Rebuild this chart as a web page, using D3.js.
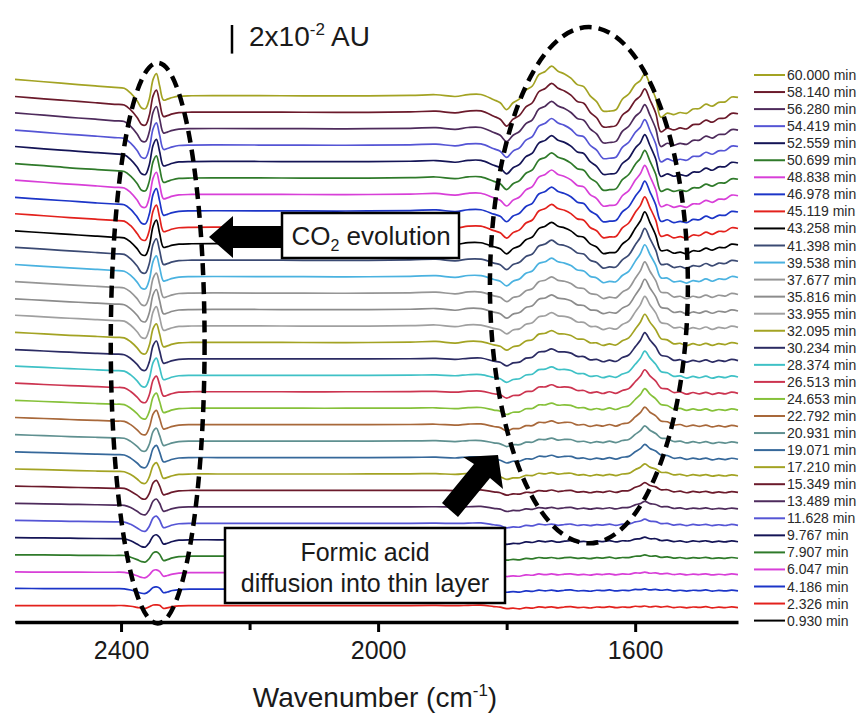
<!DOCTYPE html>
<html>
<head>
<meta charset="utf-8">
<script src="https://cdn.jsdelivr.net/npm/d3@7"></script>
<style>
  html, body { margin: 0; padding: 0; background: #fff; }
  svg { display: block; }
</style>
</head>
<body>
<svg id="chart" width="862" height="721"></svg>
<script>
// Wavenumber grid (cm^-1) shared by all difference spectra
const wavenumbers = [2565, 2520, 2480, 2440, 2410, 2395, 2385, 2375, 2368, 2362, 2356, 2350, 2345, 2340, 2334, 2328, 2320, 2310,
  2290, 2250, 2150, 2050, 1950, 1910, 1880, 1860,
  1840, 1820, 1810, 1800, 1790, 1780, 1770, 1760, 1750, 1740, 1730, 1720, 1710, 1700, 1690, 1680, 1670, 1660, 1650, 1640,
  1630, 1620, 1610, 1600, 1592, 1585, 1577, 1568, 1560, 1550, 1540, 1530, 1520, 1510, 1500, 1490, 1480, 1470, 1460, 1450, 1440];

// Acquisition times (min), first spectrum at the bottom of the stack
const times = ["0.930", "2.326", "4.186", "6.047", "7.907", "9.767", "11.628", "13.489", "15.349", "17.210", "19.071",
  "20.931", "22.792", "24.653", "26.513", "28.374", "30.234", "32.095", "33.955", "35.816", "37.677", "39.538",
  "41.398", "43.258", "45.119", "46.978", "48.838", "50.699", "52.559", "54.419", "56.280", "58.140", "60.000"];

// Absorbance changes in mAU (10^-3 AU), one array per spectrum, same order as the grid
const abs00 = [0,0,0,0,0,0,0,0,0,0, 0,0,0,0,0,0,0,0,0,0, 0,0,0,0,0,0,0,0,0,0, 0,0,0,0,0,0,0,0,0,0, 0,0,0,0,0,0,0,0,0,0, 0,0,0,0,0,0,0,0,0,0, 0,0,0,0,0,0,0];
const abs01 = [0,0,0,0,0,0,-0.5,-1.3,-1.9,-2,-0.9,0.4,0.5,0.2,-2,-1.6,-0.8,-0.2, 0,0,0,0,0,0.1,-0.1,0.1,
  0.3,-0.7,-1.1,-2.2,-1.8,-2.3,-1.4,-1.8,-0.9,-1.4,-0.9,-1.6,-1.0,-0.8,-1.5,-1.2,-1.7,-1.0,-1.3,-0.8,-1.5,-1.0,-1.3,-0.5,-0.8,-0.3,-1.0,-0.5,-1.1,-0.6,-1.4,-1.0,-1.6,-1.0,-1.3,-0.8,-1.6,-1.1,-1.5,-0.9,-1.4];
const abs02 = [0.5,0.4,0.4,0.3,0.3,0.2,-0.6,-1.9,-2.9,-3,-1.3,1.1,1.5,0.7,-2.5,-2,-1,-0.3, 0,0,0,0,0,0.1,-0.1,0.1,
  0.3,-0.7,-1.1,-2.2,-1.7,-2.1,-1.2,-1.6,-0.7,-1.2,-0.7,-1.4,-0.8,-0.6,-1.3,-1.0,-1.5,-0.8,-1.1,-0.6,-1.3,-0.8,-1.0,-0.2,-0.4,0.1,-0.6,-0.2,-0.8,-0.4,-1.2,-0.8,-1.4,-0.8,-1.1,-0.6,-1.4,-0.9,-1.3,-0.7,-1.2];
const abs03 = [0.5,0.4,0.4,0.3,0.3,0.2,-0.7,-2.2,-3.3,-3.5,-1.5,1.5,2,0.9,-2.5,-2,-1,-0.3, 0,0,0,0,0,0.1,-0.1,0.1,
  0.3,-0.8,-1.4,-2.7,-2.2,-2.5,-1.5,-1.8,-0.9,-1.4,-0.9,-1.6,-1.0,-0.8,-1.5,-1.2,-1.7,-1.0,-1.3,-0.8,-1.5,-0.9,-1.1,-0.2,-0.3,0.4,-0.4,-0.1,-0.9,-0.5,-1.3,-0.9,-1.6,-1.0,-1.3,-0.8,-1.6,-1.1,-1.5,-0.9,-1.4];
const abs04 = [1,0.9,0.7,0.6,0.5,0.5,-0.7,-2.4,-3.8,-4,-1.6,2.3,3,1.4,-3,-2.4,-1.2,-0.3, 0,0,0,0,0,0.1,-0.1,0.1,
  0.3,-0.8,-1.4,-2.7,-2.2,-2.5,-1.5,-1.8,-0.9,-1.4,-0.9,-1.6,-1.0,-0.8,-1.5,-1.2,-1.7,-1.0,-1.3,-0.7,-1.5,-0.9,-1.0,0.0,0.1,0.9,0.0,0.2,-0.8,-0.4,-1.3,-0.9,-1.6,-1.0,-1.3,-0.8,-1.6,-1.1,-1.5,-0.9,-1.4];
const abs05 = [1.5,1.3,1.1,0.9,0.8,0.7,-0.7,-3,-4.8,-5,-2,2.6,3.5,1.6,-3,-2.4,-1.2,-0.3, 0,0,0,0,0,0.1,-0.1,0.1,
  0.3,-1.0,-1.6,-3.2,-2.5,-2.7,-1.5,-1.9,-0.8,-1.4,-0.8,-1.7,-1.0,-0.7,-1.6,-1.1,-1.7,-0.9,-1.3,-0.6,-1.5,-0.7,-0.8,0.5,0.8,1.9,0.7,0.7,-0.5,-0.2,-1.3,-0.8,-1.6,-0.8,-1.3,-0.7,-1.6,-1.0,-1.5,-0.8,-1.4];
const abs06 = [2,1.7,1.4,1.2,1,0.9,-0.7,-3.2,-5.2,-5.5,-2,3.8,5,2.3,-3,-2.4,-1.2,-0.3, 0,0,0,0,0,0.1,-0.1,0.1,
  0.3,-1.0,-1.6,-3.2,-2.5,-2.7,-1.4,-1.8,-0.6,-1.1,-0.5,-1.4,-0.8,-0.5,-1.5,-1.0,-1.6,-0.9,-1.3,-0.6,-1.4,-0.6,-0.6,1.0,1.6,2.9,1.5,1.2,-0.2,0.0,-1.2,-0.7,-1.6,-0.8,-1.3,-0.7,-1.6,-1.0,-1.5,-0.8,-1.4];
const abs07 = [2.5,2.1,1.8,1.5,1.3,1.1,-0.5,-3.1,-5.2,-5.5,-1.9,4.1,5.5,2.5,-3,-2.4,-1.2,-0.3, 0,0,0,0,0,0.1,-0.1,0.1,
  0.3,-1.0,-1.6,-3.2,-2.5,-2.6,-1.4,-1.7,-0.5,-1.0,-0.3,-1.2,-0.6,-0.4,-1.4,-0.9,-1.6,-0.9,-1.3,-0.6,-1.4,-0.5,-0.4,1.4,2.3,3.9,2.3,1.7,0.1,0.2,-1.1,-0.7,-1.5,-0.8,-1.3,-0.7,-1.6,-1.0,-1.5,-0.8,-1.4];
const abs08 = [3,2.6,2.2,1.8,1.5,1.4,-0.5,-3.3,-5.7,-6,-2,5.3,7,3.2,-3,-2.4,-1.2,-0.3, 0,0,0,0,0,0.1,-0.1,0.1,
  0.4,-1.0,-1.6,-3.3,-2.4,-2.6,-1.3,-1.5,-0.1,-0.5,0.3,-0.8,-0.2,0.0,-1.2,-0.8,-1.6,-0.8,-1.3,-0.4,-1.4,-0.3,-0.1,2.2,3.4,5.4,3.4,2.5,0.5,0.5,-1.0,-0.5,-1.6,-0.7,-1.3,-0.6,-1.7,-1.0,-1.6,-0.8,-1.4];
const abs09 = [3.5,3,2.5,2.1,1.8,1.6,-0.4,-3.5,-6.2,-6.5,-2,6,8,3.6,-3,-2.4,-1.2,-0.3, 0,0,0,0,0.1,0.3,-0.3,0.4,
  0.4,-1.1,-1.9,-3.8,-2.7,-2.6,-1.0,-1.1,0.5,0.1,1.0,-0.1,0.4,0.5,-0.7,-0.5,-1.3,-0.5,-1.1,-0.2,-1.1,0.0,0.4,3.0,4.7,7.1,4.8,3.5,1.2,1.0,-0.6,-0.2,-1.3,-0.5,-1.1,-0.4,-1.5,-0.8,-1.4,-0.6,-1.2];
const abs10 = [4,3.4,2.9,2.4,2,1.8,-0.4,-3.8,-6.7,-7,-2.2,6.4,8.5,3.8,-3,-2.4,-1.2,-0.3, 0,0,0,0,0.1,0.3,-0.3,0.4,
  0.4,-1.2,-1.9,-3.8,-2.6,-2.6,-0.9,-1.0,0.9,0.6,1.6,0.3,0.8,0.8,-0.6,-0.3,-1.3,-0.4,-1.1,-0.1,-1.1,0.2,0.8,4.0,6.2,9.2,6.4,4.6,1.8,1.4,-0.5,-0.1,-1.3,-0.4,-1.2,-0.4,-1.6,-0.8,-1.4,-0.5,-1.2];
const abs11 = [4.5,3.8,3.2,2.7,2.3,2,-0.2,-3.7,-6.7,-7,-2.2,6.8,9,4,-3,-2.4,-1.2,-0.3, 0,0,0,0,0.1,0.3,-0.3,0.4,
  0.4,-1.2,-1.9,-3.8,-2.5,-2.5,-0.7,-0.8,1.2,1.0,2.1,0.7,1.2,1.1,-0.4,-0.1,-1.2,-0.4,-1.0,0.0,-1.0,0.4,1.1,4.7,7.3,10.7,7.6,5.3,2.2,1.7,-0.3,0.0,-1.3,-0.4,-1.2,-0.4,-1.6,-0.8,-1.4,-0.5,-1.2];
const abs12 = [5,4.3,3.6,3,2.5,2.3,0,-3.6,-6.7,-7,-2,7.5,10,4.5,-3,-2.4,-1.2,-0.3, 0,0,0,0,0.1,0.3,-0.3,0.4,
  0.5,-1.3,-2.1,-4.4,-2.8,-2.7,-0.7,-0.7,1.6,1.4,2.6,1.1,1.6,1.5,-0.2,0.1,-1.2,-0.3,-1.0,0.1,-1.0,0.6,1.4,5.4,8.4,12.2,8.7,6.1,2.6,2.0,-0.2,0.1,-1.3,-0.3,-1.2,-0.3,-1.6,-0.7,-1.5,-0.5,-1.3];
const abs13 = [5.5,4.7,4,3.3,2.8,2.5,0,-3.8,-7.1,-7.5,-2.2,7.9,10.5,4.7,-3,-2.4,-1.2,-0.3, 0,0,0,0,0.1,0.3,-0.3,0.4,
  0.5,-1.3,-2.1,-4.4,-2.8,-2.6,-0.4,-0.2,2.3,2.3,3.6,2.1,2.4,2.0,0.3,0.4,-1.0,-0.2,-1.0,0.2,-0.9,0.7,1.7,6.1,9.5,13.7,9.8,6.6,2.6,1.9,-0.5,-0.1,-1.5,-0.5,-1.4,-0.5,-1.8,-0.9,-1.5,-0.5,-1.3];
const abs14 = [6,5.1,4.3,3.6,3,2.7,0.2,-3.7,-7.1,-7.5,-2.1,8.3,11,5,-3,-2.4,-1.2,-0.3, 0,0,0,0,0.1,0.3,-0.3,0.4,
  0.5,-1.4,-2.1,-4.4,-2.6,-2.3,0.1,0.4,3.3,3.4,4.9,3.2,3.4,2.9,0.9,0.9,-0.8,-0.1,-1.2,0.0,-1.1,0.9,2.2,7.0,10.8,15.4,11.1,7.4,2.7,2.0,-0.5,-0.1,-1.7,-0.5,-1.5,-0.4,-1.8,-0.8,-1.5,-0.3,-1.1];
const abs15 = [6.5,5.5,4.7,3.9,3.3,2.9,0.3,-3.9,-7.6,-8,-2.2,9,12,5.4,-3,-2.4,-1.2,-0.3, 0,0,0,0,0.1,0.3,-0.3,0.4,
  0.5,-1.5,-2.4,-4.9,-2.9,-2.4,0.2,0.8,4.0,4.3,5.9,4.1,4.1,3.4,1.3,1.2,-0.7,-0.3,-1.6,-0.5,-1.4,0.9,2.5,7.7,11.9,16.9,12.2,7.8,2.7,1.8,-0.7,-0.4,-1.9,-0.8,-1.7,-0.6,-2.0,-0.9,-1.6,-0.4,-1.2];
const abs16 = [6.5,5.5,4.7,3.9,3.3,2.9,0.3,-3.9,-7.6,-8,-2.1,9.4,12.5,5.6,-3,-2.4,-1.2,-0.3, 0,0,0,0,0.1,0.3,-0.3,0.4,
  0.6,-1.6,-2.4,-4.9,-2.8,-2.3,0.5,1.1,4.8,5.2,7.0,5.0,4.9,4.0,1.7,1.6,-0.7,-0.4,-2.0,-0.9,-1.8,0.9,2.7,8.4,13.0,18.4,13.2,8.4,2.6,1.7,-1.0,-0.6,-2.2,-1.0,-1.9,-0.7,-2.2,-1.0,-1.7,-0.3,-1.2];
const abs17 = [7,6,5,4.2,3.5,3.2,0.5,-3.8,-7.6,-8,-2,9.8,13,5.9,-3,-2.4,-1.2,-0.3, 0,0.1,0,-0.1,0.2,0.7,-0.5,0.8,
  0.6,-1.7,-2.7,-5.4,-3.0,-2.1,1.0,1.9,5.8,6.4,8.3,6.2,5.9,4.9,2.4,2.2,-0.3,-0.3,-2.1,-1.0,-1.8,1.1,3.2,9.2,14.1,19.7,14.2,8.9,2.7,1.8,-1.0,-0.6,-2.2,-0.9,-1.9,-0.6,-2.1,-0.9,-1.5,-0.1,-0.9];
const abs18 = [7.5,6.4,5.4,4.5,3.8,3.4,0.5,-4,-8.1,-8.5,-2.2,10.1,13.5,6.1,-3,-2.4,-1.2,-0.3, 0,0.1,0,-0.1,0.2,0.7,-0.5,0.8,
  0.6,-1.7,-2.6,-5.5,-2.8,-2.0,1.2,2.2,6.5,7.2,9.3,7.1,6.7,5.5,2.8,2.5,-0.3,-0.4,-2.5,-1.4,-2.2,1.1,3.3,9.7,14.8,20.7,14.9,9.2,2.4,1.6,-1.3,-0.9,-2.5,-1.1,-2.1,-0.7,-2.3,-1.0,-1.6,-0.1,-1.0];
const abs19 = [7.5,6.4,5.4,4.5,3.8,3.4,0.5,-4,-8.1,-8.5,-2.2,10.5,14,6.3,-3,-2.4,-1.2,-0.3, 0,0.1,0,-0.1,0.2,0.7,-0.5,0.8,
  0.6,-1.8,-2.9,-6.0,-3.2,-2.1,1.4,2.6,7.2,8.1,10.3,8.0,7.5,6.1,3.3,2.8,-0.2,-0.6,-2.9,-1.9,-2.5,1.0,3.3,9.9,15.2,21.2,15.1,8.9,1.6,0.8,-2.0,-1.5,-3.1,-1.7,-2.5,-1.1,-2.6,-1.2,-1.8,-0.2,-1.0];
const abs20 = [8,6.8,5.8,4.8,4,3.6,0.7,-3.9,-8.1,-8.5,-2.2,10.5,14,6.3,-3,-2.4,-1.2,-0.3, 0,0.1,0,-0.1,0.2,0.7,-0.5,0.8,
  0.7,-1.9,-2.9,-6.0,-3.1,-2.0,1.7,3.0,8.0,9.0,11.4,8.9,8.3,6.7,3.7,3.2,-0.3,-1.0,-3.8,-2.8,-3.3,0.7,3.3,10.2,15.5,21.8,15.3,8.7,0.7,0.2,-2.7,-2.2,-3.8,-2.2,-3.0,-1.4,-3.0,-1.5,-2.1,-0.2,-1.0];
const abs21 = [8.5,7.2,6.1,5.1,4.3,3.8,0.9,-3.8,-8.1,-8.5,-2.1,10.9,14.5,6.5,-3,-2.4,-1.2,-0.3, 0,0.1,0,-0.1,0.2,0.7,-0.5,0.8,
  0.7,-2.0,-3.2,-6.5,-3.2,-1.6,2.4,3.9,9.2,10.4,12.9,10.4,9.5,7.8,4.6,4.0,0.2,-0.9,-4.2,-3.3,-3.6,0.8,3.7,10.7,16.0,22.3,15.5,8.1,-0.8,-1.0,-3.6,-3.1,-4.5,-2.8,-3.4,-1.6,-3.2,-1.5,-1.9,0.1,-0.6];
const abs22 = [9,7.7,6.5,5.4,4.5,4.1,0.9,-4.1,-8.6,-9,-2.3,11.3,15,6.8,-3,-2.4,-1.2,-0.3, 0,0.1,0,-0.1,0.2,0.7,-0.5,0.8,
  0.7,-2.0,-3.2,-6.6,-3.0,-1.5,2.6,4.3,9.9,11.3,14.0,11.2,10.3,8.4,5.0,4.3,0.0,-1.6,-5.5,-4.7,-4.8,0.3,3.5,10.7,15.9,22.3,15.1,7.0,-2.8,-2.7,-5.1,-4.4,-5.8,-3.8,-4.3,-2.3,-3.9,-2.0,-2.3,-0.1,-0.7];
const abs23 = [9,7.7,6.5,5.4,4.5,4.1,1.2,-3.4,-7.6,-8,-1.5,12.4,16.5,7.4,-2.5,-2,-1,-0.3, 0,0.1,0,-0.1,0.2,0.7,-0.5,0.8,
  0.7,-2.1,-3.5,-7.1,-3.4,-1.6,2.8,4.7,10.6,12.2,15.0,12.2,11.1,9.0,5.5,4.6,-0.1,-2.3,-6.8,-6.2,-5.9,-0.2,3.3,10.7,15.9,22.3,14.8,5.9,-4.8,-4.4,-6.6,-5.8,-7.0,-4.9,-5.2,-3.1,-4.5,-2.6,-2.7,-0.3,-0.8];
const abs24 = [9.5,8.1,6.8,5.7,4.8,4.3,1.1,-4.3,-8.6,-9,-2.2,11.6,15.5,7,-3,-2.4,-1.2,-0.3, 0,0.1,0,-0.1,0.2,0.7,-0.5,0.8,
  0.8,-2.3,-3.8,-7.6,-3.7,-1.8,3.0,5.1,11.4,13.1,16.1,13.1,11.9,9.6,5.9,5.0,-0.1,-2.4,-7.2,-6.7,-6.4,-0.4,3.0,10.4,15.2,21.3,13.8,5.0,-6.2,-5.3,-7.4,-6.5,-7.7,-5.4,-5.7,-3.4,-4.9,-2.8,-2.9,-0.3,-0.8];
const abs25 = [9.5,8.0,6.9,5.6,4.8,4.3,1.1,-4.2,-8.6,-9,-2.2,11.7,15.5,7,-3,-2.4,-1.2,-0.3, 0,0.1,0,-0.1,0.2,0.7,-0.5,0.8,
  0.8,-2.3,-3.8,-7.6,-3.6,-1.7,3.1,5.3,11.8,13.5,16.6,13.5,12.2,9.9,6.1,5.1,-0.1,-2.7,-7.6,-7.2,-6.8,-0.7,2.9,10.1,14.8,20.8,13.3,4.2,-7.3,-6.2,-8.2,-7.3,-8.3,-6.0,-6.2,-3.7,-5.2,-3.1,-3.1,-0.4,-0.8];
const abs26 = [10,8.5,7.2,6,5,4.5,1.3,-3.9,-8.6,-9,-2.2,11.6,15.5,7,-3,-2.4,-1.2,-0.3, 0,0.1,0,-0.1,0.2,0.7,-0.5,0.8,
  0.8,-2.4,-4.1,-8.1,-4.0,-1.8,3.2,5.5,12.1,14.0,17.1,14.0,12.6,10.2,6.3,5.3,-0.1,-2.9,-8.1,-7.7,-7.2,-0.9,2.7,9.9,14.4,20.3,12.7,3.4,-8.5,-7.2,-9.0,-8.0,-9.0,-6.6,-6.6,-4.1,-5.5,-3.3,-3.3,-0.5,-0.9];
const abs27 = [10,8.6,7.1,6,5.1,4.5,1.3,-3.9,-8.6,-9,-2.2,11.6,15.5,7,-3,-2.4,-1.2,-0.3, 0,0.1,0,-0.1,0.2,0.7,-0.5,0.8,
  0.8,-2.4,-4.1,-8.1,-4.0,-1.8,3.3,5.7,12.5,14.4,17.6,14.5,13.0,10.4,6.5,5.4,-0.1,-3.1,-8.5,-8.2,-7.6,-1.2,2.4,9.5,13.7,19.3,11.8,2.6,-9.3,-7.8,-9.4,-8.4,-9.3,-6.9,-6.8,-4.3,-5.7,-3.5,-3.4,-0.6,-0.9];
const abs28 = [10.5,8.9,7.6,6.3,5.3,4.7,1.4,-3.8,-8.6,-9,-2.2,11.6,15.5,7,-3,-2.4,-1.2,-0.3, 0,0.1,0,-0.1,0.2,0.7,-0.5,0.8,
  0.8,-2.6,-4.3,-8.6,-4.3,-2.0,3.4,5.8,12.9,14.8,18.1,14.9,13.4,10.8,6.7,5.6,-0.1,-3.3,-8.9,-8.7,-8.1,-1.4,2.2,9.3,13.2,18.8,11.2,1.8,-10.4,-8.6,-10.3,-9.1,-10.0,-7.4,-7.3,-4.6,-6.1,-3.7,-3.6,-0.6,-1.0];
const abs29 = [10.5,8.9,7.5,6.3,5.2,4.7,1.4,-3.8,-8.6,-9,-2.2,11.6,15.5,7,-3,-2.4,-1.2,-0.3, 0,0.1,0,-0.1,0.2,0.7,-0.5,0.8,
  0.8,-2.6,-4.3,-8.6,-4.2,-1.9,3.5,6.0,13.2,15.3,18.6,15.4,13.8,11.1,6.9,5.8,-0.1,-3.5,-9.3,-9.2,-8.5,-1.6,2.0,8.8,12.5,17.8,10.2,0.8,-11.7,-9.6,-11.1,-9.9,-10.6,-7.9,-7.8,-5.0,-6.4,-4.0,-3.8,-0.7,-1.0];
const abs30 = [11,9.4,7.9,6.6,5.5,5,1.6,-3.7,-8.6,-9,-2.2,11.6,15.5,7,-3,-2.4,-1.2,-0.3, 0,0.1,0,-0.1,0.2,0.7,-0.5,0.8,
  0.8,-2.7,-4.6,-9.1,-4.6,-2.0,3.5,6.2,13.6,15.7,19.1,15.8,14.1,11.3,7.1,5.9,-0.1,-3.7,-9.8,-9.7,-8.9,-1.9,1.7,8.4,11.7,16.8,9.4,0.0,-12.5,-10.2,-11.6,-10.3,-11.0,-8.2,-8.0,-5.2,-6.6,-4.1,-3.9,-0.7,-1.0];
const abs31 = [11,9.3,8.0,6.6,5.5,5,1.6,-3.7,-8.6,-9,-2.2,11.6,15.5,7,-3,-2.4,-1.2,-0.3, 0,0.1,0,-0.1,0.2,0.7,-0.5,0.8,
  0.9,-2.8,-4.9,-9.7,-4.9,-2.2,3.7,6.6,14.3,16.6,20.2,16.7,14.9,12.0,7.5,6.3,-0.1,-3.9,-10.2,-10.2,-9.4,-2.1,1.5,8.2,11.3,16.3,8.7,-0.7,-13.7,-11.1,-12.4,-11.0,-11.7,-8.7,-8.4,-5.5,-7.0,-4.4,-4.1,-0.8,-1.1];
const abs32 = [11.5,9.8,8.3,6.9,5.8,5.2,1.8,-3.5,-8.6,-9,-2.2,11.6,15.5,7,-3,-2.4,-1.2,-0.3, 0,0.1,0,-0.1,0.2,0.7,-0.5,0.8,
  0.9,-2.8,-4.9,-9.7,-4.9,-2.1,3.9,6.8,14.7,17.0,20.7,17.2,15.3,12.3,7.8,6.4,-0.1,-4.1,-10.6,-10.7,-9.8,-2.4,1.2,7.8,10.6,15.3,7.8,-1.8,-15.0,-12.1,-13.2,-11.7,-12.3,-9.3,-8.9,-5.9,-7.3,-4.6,-4.3,-0.9,-1.1];

const spectra = [abs00, abs01, abs02, abs03, abs04, abs05, abs06, abs07, abs08, abs09, abs10, abs11, abs12, abs13, abs14, abs15,
  abs16, abs17, abs18, abs19, abs20, abs21, abs22, abs23, abs24, abs25, abs26, abs27, abs28, abs29, abs30, abs31, abs32];

// Line colours, same order as the spectra
const lineColors = ["#000000", "#e3211c", "#1c35c8", "#d83fd8", "#2f7a2a", "#141456", "#5555d5", "#4e2b5c", "#6b1a2b",
  "#a3a323", "#36689a", "#5f9090", "#a8683a", "#86c13a", "#cc3450", "#3fc1c6", "#2b2b63", "#a3a323", "#a0a0a0",
  "#8c8c8c", "#969696", "#4ab2e0", "#3b4a73", "#000000", "#e3211c", "#1c35c8", "#d83fd8", "#2f7a2a", "#141456",
  "#5555d5", "#4e2b5c", "#6b1a2b", "#a3a323"];

const majorTicks = [2400, 2000, 1600];
const minorTicks = [2200, 1800];
const scaleBarMAU = 20; // 2x10^-2 AU

// ---- layout ----
const FONT = "'Liberation Sans', Arial, Helvetica, sans-serif";
const stackStep = 11.5; // vertical offset between consecutive spectra, mAU
const svg = d3.select("#chart");

const x = d3.scaleLinear().domain([2565, 1440]).range([15, 738]);
const y = d3.scaleLinear().domain([0, 420]).range([622, 21.4]);

// ---- spectra ----
const gLines = svg.append("g").attr("fill", "none").attr("stroke-width", 1.7).attr("stroke-linejoin", "round");
spectra.forEach((vals, i) => {
  const pts = wavenumbers.map((w, k) => [w, vals[k]]).filter(p => p[1] !== undefined);
  const line = d3.line()
    .x(d => x(d[0]))
    .y(d => y(d[1] + i * stackStep))
    .curve(d3.curveCatmullRom.alpha(0.5));
  gLines.append("path").attr("d", line(pts)).attr("stroke", lineColors[i]);
});

// ---- x axis ----
const axisG = svg.append("g").attr("transform", `translate(0,${y(0)})`);
axisG.call(d3.axisBottom(x).tickValues(majorTicks).tickSize(10).tickSizeOuter(0).tickPadding(9).tickFormat(d3.format("d")));
axisG.select(".domain").attr("stroke", "#000").attr("stroke-width", 3.5);
axisG.selectAll(".tick line").attr("stroke", "#000").attr("stroke-width", 3);
axisG.selectAll(".tick text").attr("font-family", FONT).attr("font-size", 25).attr("fill", "#1a1a1a");
const minorG = svg.append("g").attr("transform", `translate(0,${y(0)})`);
minorG.call(d3.axisBottom(x).tickValues(minorTicks).tickSize(8).tickFormat(""));
minorG.select(".domain").remove();
minorG.selectAll(".tick line").attr("stroke", "#000").attr("stroke-width", 3);

const title = svg.append("text").attr("x", 375).attr("y", 707).attr("text-anchor", "middle")
  .attr("font-family", FONT).attr("font-size", 28).attr("fill", "#1a1a1a");
title.append("tspan").text("Wavenumber (cm");
title.append("tspan").attr("font-size", 17).attr("dy", -11).text("-1");
title.append("tspan").attr("dy", 11).text(")");

// ---- scale bar ----
const barLen = y(0) - y(scaleBarMAU);
svg.append("line").attr("x1", 232).attr("x2", 232).attr("y1", 25).attr("y2", 25 + barLen)
  .attr("stroke", "#000").attr("stroke-width", 2.5);
const sbt = svg.append("text").attr("x", 249).attr("y", 46).attr("font-family", FONT).attr("font-size", 28).attr("fill", "#1a1a1a");
sbt.append("tspan").text("2x10");
sbt.append("tspan").attr("font-size", 17).attr("dy", -11).text("-2");
sbt.append("tspan").attr("dy", 11).text(" AU");

// ---- dashed ellipses around the CO2 band and the formate/formic acid region ----
function dashedEllipse(w1, w2, a1, a2) {
  const cx = (x(w1) + x(w2)) / 2, cy = (y(a1) + y(a2)) / 2;
  svg.append("ellipse").attr("cx", cx).attr("cy", cy)
    .attr("rx", Math.abs(x(w2) - x(w1)) / 2).attr("ry", Math.abs(y(a2) - y(a1)) / 2)
    .attr("fill", "none").attr("stroke", "#000").attr("stroke-width", 4.5).attr("stroke-dasharray", "12,7");
}
dashedEllipse(2416, 2270, -1, 391);
dashedEllipse(1826, 1518, 55, 416);

// ---- annotation: CO2 evolution ----
svg.append("path")
  .attr("d", "M209,237 L233,216 L233,226 L283,226 L283,248 L233,248 L233,258 Z")
  .attr("fill", "#000");
svg.append("rect").attr("x", 282).attr("y", 213).attr("width", 177).attr("height", 45)
  .attr("fill", "#fff").attr("stroke", "#000").attr("stroke-width", 2.5);
const co2 = svg.append("text").attr("x", 371).attr("y", 245).attr("text-anchor", "middle")
  .attr("font-family", FONT).attr("font-size", 26).attr("fill", "#1a1a1a");
co2.append("tspan").text("CO");
co2.append("tspan").attr("font-size", 16).attr("dy", 6).text("2");
co2.append("tspan").attr("dy", -6).text(" evolution");

// ---- annotation: formic acid diffusion ----
svg.append("path")
  .attr("d", "M498,455 L503,489 L490,478 L458,517 L442,503 L474,464 L463,457 Z")
  .attr("fill", "#000");
svg.append("rect").attr("x", 225).attr("y", 528).attr("width", 280).attr("height", 75)
  .attr("fill", "#fff").attr("stroke", "#000").attr("stroke-width", 2.5);
const fa = svg.append("text").attr("text-anchor", "middle").attr("font-family", FONT).attr("font-size", 25).attr("fill", "#1a1a1a");
fa.append("tspan").attr("x", 365).attr("y", 561).text("Formic acid");
fa.append("tspan").attr("x", 365).attr("y", 592).text("diffusion into thin layer");

// ---- legend (latest spectrum first) ----
const legend = svg.append("g");
const legendTop = 75, legendStep = 17.05;
for (let k = 0; k < spectra.length; k++) {
  const i = spectra.length - 1 - k;
  const ly = legendTop + k * legendStep;
  legend.append("line").attr("x1", 754).attr("x2", 785).attr("y1", ly).attr("y2", ly)
    .attr("stroke", lineColors[i]).attr("stroke-width", 2);
  legend.append("text").attr("x", 787).attr("y", ly + 5).attr("font-family", FONT).attr("font-size", 14)
    .attr("fill", "#2a2a2a").text(times[i] + " min");
}
</script>
</body>
</html>
